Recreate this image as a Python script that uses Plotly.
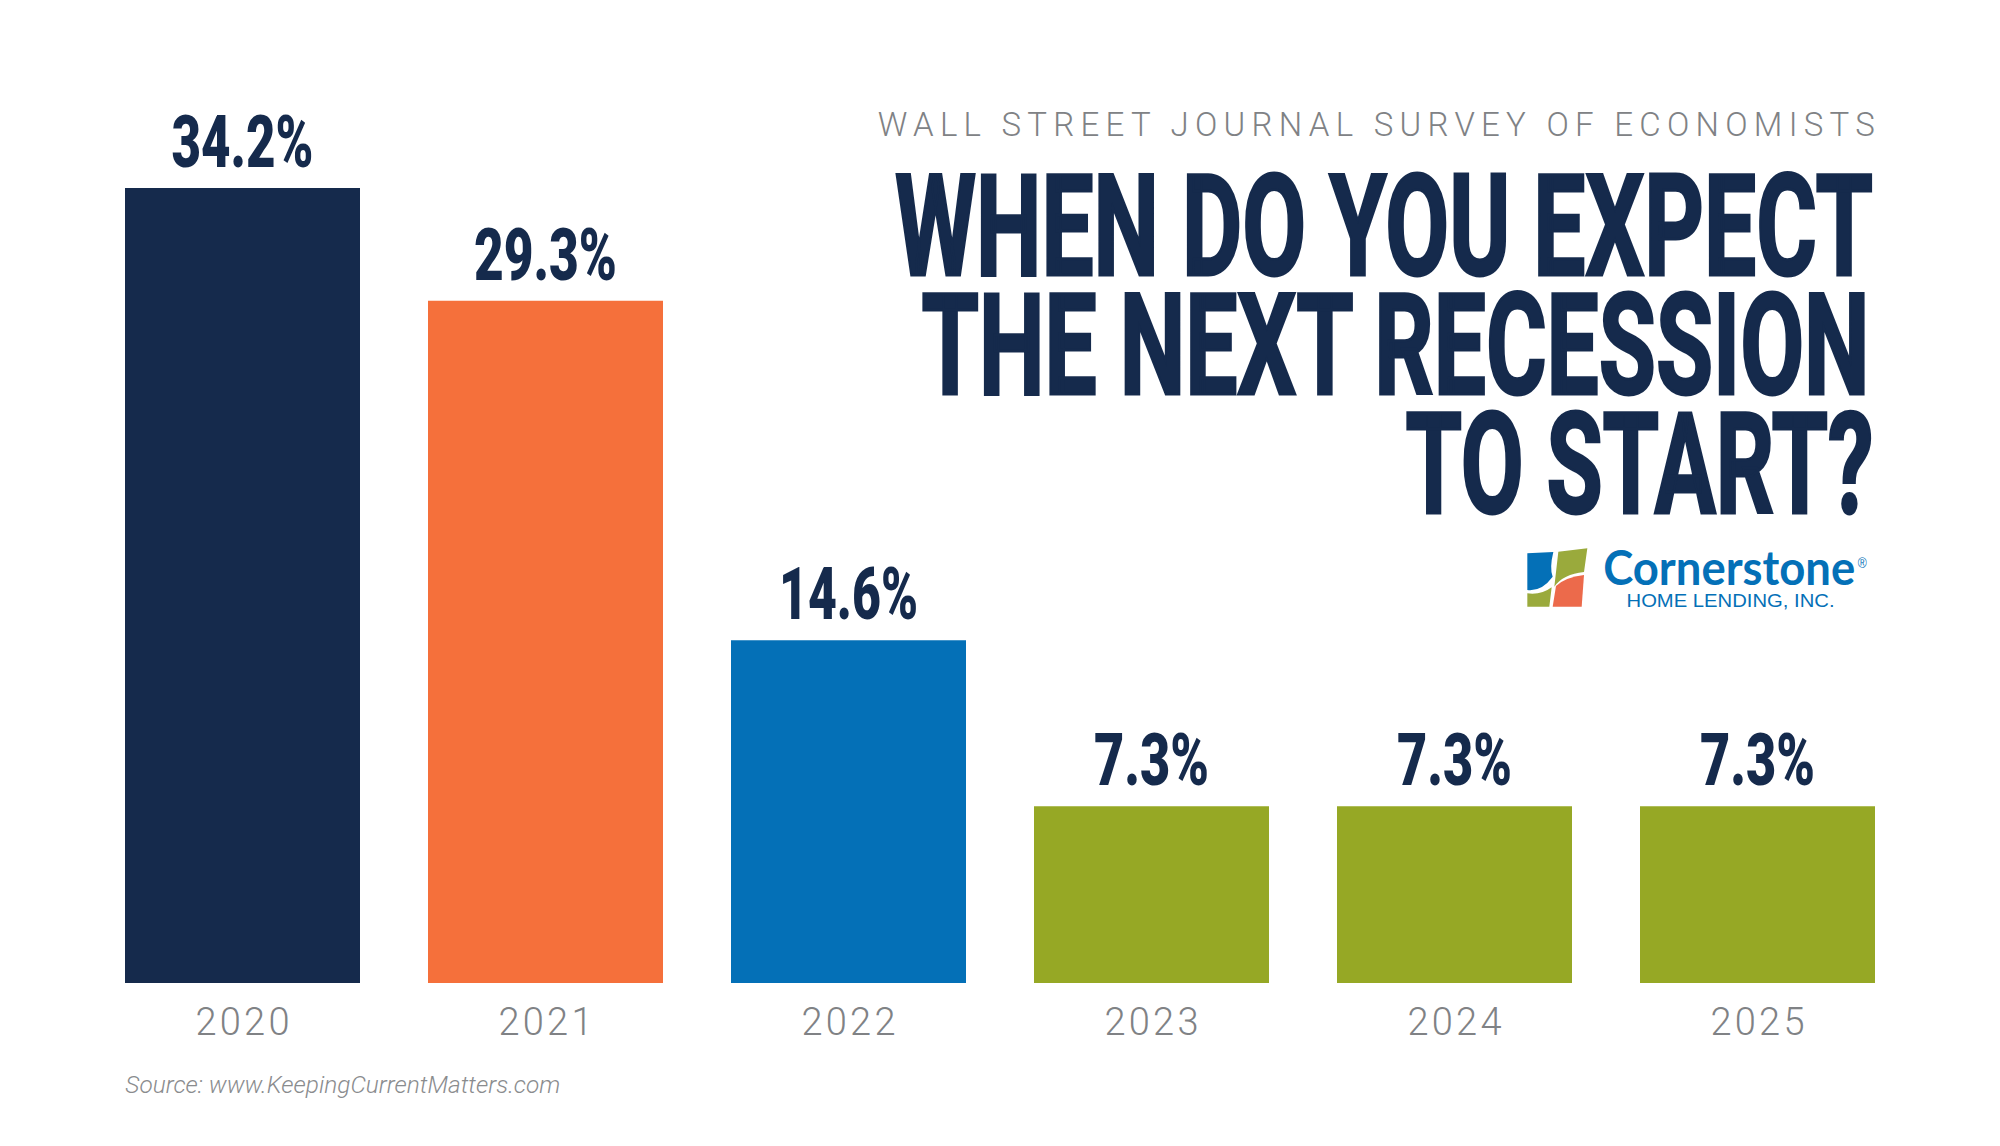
import json
import plotly.graph_objects as go

W, H = 2000, 1146
LEFT, RIGHT, BASE = 91, 91, 983

years = ["2020", "2021", "2022", "2023", "2024", "2025"]
labels = ["34.2%", "29.3%", "14.6%", "7.3%", "7.3%", "7.3%"]
# bar heights as drawn in the picture (the short bars are a bit taller than their labels say)
heights = [34.2, 29.35, 14.75, 7.6, 7.6, 7.6]
colors = ["#152a4c", "#f5703b", "#0470b7", "#96a825", "#96a825", "#96a825"]
label_widths = [142, 143, 139, 115, 115, 115]

navy = "#152a4c"
grey = "#808285"
heading_font = "Roboto"
light_font = "Roboto"


def px(x, y):
    # picture pixels to paper coordinates
    return (x - LEFT) / (W - LEFT - RIGHT), (BASE - y) / BASE


def logo(x, y):
    xp, yp = px(1500 + x / 3, 530 + y / 3)
    return f"{xp:.5f},{yp:.5f}"


def logo_path(cmds):
    out = ""
    for c, pts in cmds:
        out += c + " " + " ".join(logo(*p) for p in pts) + " "
    return out + "Z"


fig = go.Figure()
fig.add_trace(go.Bar(
    x=years, y=heights, text=labels, textposition="outside", cliponaxis=False,
    constraintext="none", marker=dict(color=colors, line_width=0),
    textfont=dict(family=heading_font, size=72, color=navy, weight=900),
    hoverinfo="skip",
))

# text, left, right, baseline, size, family, colour, weight, style, fit mode
texts = [
    ("WALL STREET JOURNAL SURVEY OF ECONOMISTS", 878, 1875, 137, 33, light_font, grey, 300, "normal", "spacing"),
    ("WHEN DO YOU EXPECT", 895, 1873, 279, 141, heading_font, navy, 700, "normal", "glyphs"),
    ("THE NEXT RECESSION", 921, 1869, 398, 141, heading_font, navy, 700, "normal", "glyphs"),
    ("TO START?", 1405, 1873, 517, 141, heading_font, navy, 700, "normal", "glyphs"),
    ("Source: www.KeepingCurrentMatters.com", 125, 560, 1094, 23, light_font, "#8a8c8e", 300, "italic", "glyphs"),
    ("Cornerstone", 1603, 1855, 585, 48, "Lato", "#0470b7", 700, "normal", "glyphs"),
    ("®", 1858, 1867, 568, 14, "Liberation Sans", "#0470b7", 400, "normal", "glyphs"),
    ("HOME LENDING, INC.", 1626, 1834, 607, 18, "Liberation Sans", "#0470b7", 400, "normal", "glyphs"),
]

fits = {}
for text, x0, x1, base, size, family, color, weight, style, mode in texts:
    xp, yp = px((x0 + x1) / 2, base + 0.212 * size)
    fig.add_annotation(
        x=xp, y=yp, xref="paper", yref="paper", text=text, showarrow=False,
        xanchor="center", yanchor="bottom", borderpad=0, borderwidth=0,
        font=dict(family=family, size=size, color=color, weight=weight, style=style),
    )
    fits[text] = [x1 - x0, mode]

shapes = []
for cmds, color in [
    ([("M", [(82, 70)]), ("L", [(160, 66)]), ("Q", [(148, 115), (158, 140)]), ("Q", [(125, 185), (82, 180)])], "#0470b7"),
    ([("M", [(175, 65)]), ("L", [(262, 55)]), ("L", [(252, 126)]), ("Q", [(190, 132), (163, 170)])], "#9aaa3c"),
    ([("M", [(82, 190)]), ("Q", [(125, 195), (155, 172)]), ("L", [(148, 230)]), ("L", [(82, 230)])], "#9aaa3c"),
    ([("M", [(168, 168)]), ("Q", [(195, 142), (252, 135)]), ("L", [(245, 230)]), ("L", [(158, 230)])], "#ec6a4b"),
    ([("M", [(188, 163)]), ("L", [(203, 163), (203, 178), (188, 178)])], "#ffffff"),
    ([("M", [(207, 163)]), ("L", [(222, 163), (222, 178), (207, 178)])], "#ffffff"),
    ([("M", [(188, 182)]), ("L", [(203, 182), (203, 198), (188, 198)])], "#ffffff"),
    ([("M", [(207, 182)]), ("L", [(222, 182), (222, 198), (207, 198)])], "#ffffff"),
]:
    shapes.append(dict(type="path", xref="paper", yref="paper", path=logo_path(cmds),
                       fillcolor=color, line_width=0))

fig.update_layout(
    width=W, height=H, showlegend=False, bargap=68 / 303,
    margin=dict(l=LEFT, r=RIGHT, t=0, b=H - BASE, pad=0),
    paper_bgcolor="white", plot_bgcolor="white", shapes=shapes,
)
fig.update_xaxes(
    type="category", range=[-0.5, 5.5], showgrid=False, zeroline=False, showline=False,
    ticks="", ticklabelstandoff=13,
    tickfont=dict(family=light_font, size=38, color=grey, weight=300),
)
fig.update_yaxes(range=[0, BASE / (795 / 34.2)], visible=False, showgrid=False, zeroline=False)

# no condensed display face is installed, so the text gets squeezed to its measured width
post_script = """
document.body.style.margin = '0';
var fits = %s;
var barWidths = %s;
var tickWidth = 94;
function fit(el, w, mode) {
  el.setAttribute('textLength', w);
  el.setAttribute('lengthAdjust', mode === 'spacing' ? 'spacing' : 'spacingAndGlyphs');
}
document.querySelectorAll('.annotation-text').forEach(function (el) {
  var f = fits[el.textContent];
  if (!f) return;
  fit(el, f[0], f[1]);
  if (parseFloat(el.style.fontSize) > 100) {
    el.style.stroke = '%s';
    el.style.strokeWidth = '3px';
  }
  var box = el.parentNode.querySelector('rect.bg');
  if (box) {
    var b = el.getBBox();
    box.setAttribute('x', b.x);
    box.setAttribute('width', b.width);
  }
});
document.querySelectorAll('text.bartext').forEach(function (el, i) {
  fit(el, barWidths[i], 'glyphs');
});
document.querySelectorAll('.xtick text').forEach(function (el) {
  fit(el, tickWidth, 'spacing');
});
""" % (json.dumps(fits), json.dumps(label_widths), navy)

fig.write_html("out.html", post_script=post_script, config={"displayModeBar": False})
